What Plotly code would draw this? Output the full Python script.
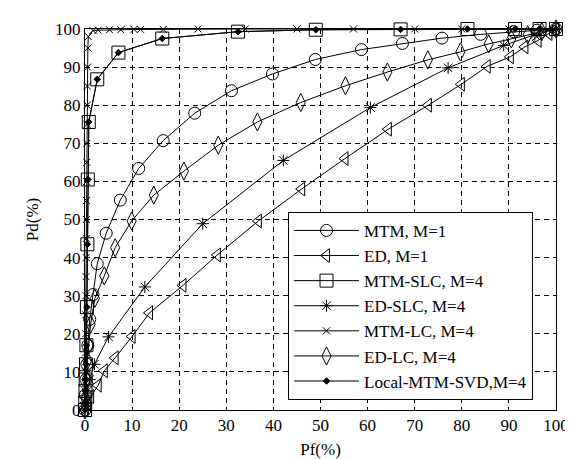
import plotly.graph_objects as go

# ---- data (Pf %, Pd %) ----
mtm_pf = [0, 0.1, 0.2, 0.4, 0.6, 1.0, 1.7, 2.6, 4.5, 7.5, 11.4, 16.6, 23.3, 31.1, 39.8, 48.9, 58.7, 67.4, 75.8, 84.0, 91.0, 96.0, 100]
mtm_pd = [0, 4, 8, 12, 17, 23.8, 30.3, 38.4, 46.4, 55.1, 63.4, 70.7, 77.9, 83.8, 88.2, 92.0, 94.6, 96.2, 97.6, 98.6, 99.3, 99.7, 100]

ed_pf = [0, 0.5, 1.2, 2.8, 4.1, 6.4, 10.0, 13.7, 20.8, 28.1, 36.8, 46.0, 55.2, 64.4, 72.9, 79.9, 85.4, 90.3, 93.4, 96.2, 98.5, 100]
ed_pd = [0, 1.5, 3.5, 6.5, 10.3, 13.7, 19.3, 25.5, 32.7, 40.7, 49.6, 58.0, 66.0, 73.7, 80.0, 85.5, 90.2, 92.7, 95.3, 97.0, 98.8, 100]

mtmslc_pf = [0, 0.05, 0.1, 0.15, 0.2, 0.3, 0.4, 0.5, 0.6, 0.8, 2.6, 7.1, 16.4, 32.5, 49.0, 67.0, 81.2, 91.3, 96.5, 100]
mtmslc_pd = [0, 2, 5, 8, 12, 17, 27, 43.5, 60.5, 75.6, 86.8, 93.8, 97.5, 99.3, 99.8, 99.9, 100, 100, 100, 100]

edslc_pf = [0, 0.2, 0.5, 1.0, 2.0, 5.0, 12.7, 25.0, 42.1, 60.6, 77.1, 88.9, 95.5, 100]
edslc_pd = [0, 2, 5, 8, 12, 19.2, 32.3, 48.9, 65.5, 79.4, 89.8, 95.7, 98.5, 100]

mtmlc_pf = [0, 0.05, 0.1, 0.12, 0.15, 0.18, 0.2, 0.22, 0.25, 0.28, 0.3, 0.32, 0.35, 0.38, 0.4, 0.42, 0.45, 0.5, 0.55, 0.6, 0.7,
            1.7, 2.8, 5.2, 7.6, 10.4, 11.8, 16.6, 24.0, 34.0, 45.0, 57.0, 70.0, 80.0, 90.0, 100]
mtmlc_pd = [0, 5, 10, 15, 20, 25, 30, 35, 40, 45, 50, 55, 60, 65, 70, 75, 80, 85, 90, 95, 98,
            99.6, 99.7, 99.8, 99.8, 99.9, 99.9, 99.9, 100, 100, 100, 100, 100, 100, 100, 100]

edlc_pf = [0, 0.1, 0.3, 0.5, 0.8, 1.2, 2.1, 4.1, 6.4, 9.9, 14.6, 21.0, 28.3, 36.6, 45.8, 55.3, 64.2, 72.8, 79.7, 85.7, 90.5, 94.0, 97.0, 100]
edlc_pd = [0, 3, 8, 13, 17, 22.5, 29.3, 35.2, 42.6, 49.6, 56.4, 62.7, 69.5, 75.6, 80.7, 85.1, 88.7, 91.9, 94.0, 96.1, 97.4, 98.5, 99.3, 100]

svd_pf = [0, 0.05, 0.1, 0.15, 0.2, 0.3, 0.4, 0.5, 0.6, 0.8, 2.6, 7.1, 16.4, 32.5, 49.0, 67.0, 81.2, 91.3, 96.5, 100]
svd_pd = [0, 2, 5, 8, 12, 17, 27, 43.5, 60.5, 75.6, 86.8, 93.8, 97.5, 99.3, 99.8, 99.9, 100, 100, 100, 100]

x_ticks = [0, 10, 20, 30, 40, 50, 60, 70, 80, 90, 100]
y_ticks = [0, 10, 20, 30, 40, 50, 60, 70, 80, 90, 100]

FONT = "Liberation Serif, Times New Roman, serif"

series = [
    ("MTM, M=1", mtm_pf, mtm_pd, dict(symbol="circle-open", size=12)),
    ("ED, M=1", ed_pf, ed_pd, dict(symbol="triangle-left-open", size=12)),
    ("MTM-SLC, M=4", mtmslc_pf, mtmslc_pd, dict(symbol="square-open", size=13)),
    ("ED-SLC, M=4", edslc_pf, edslc_pd, dict(symbol="asterisk-open", size=10)),
    ("MTM-LC, M=4", mtmlc_pf, mtmlc_pd, dict(symbol="x-thin-open", size=7)),
    ("ED-LC, M=4", edlc_pf, edlc_pd, dict(symbol="diamond-tall-open", size=13)),
    ("Local-MTM-SVD,M=4", svd_pf, svd_pd, dict(symbol="diamond", size=5)),
]

fig = go.Figure()
for name, xs, ys, mk in series:
    m = dict(color="black", line=dict(width=1, color="black"))
    m.update(mk)
    fig.add_trace(go.Scatter(
        x=xs, y=ys, name=name, mode="lines+markers",
        line=dict(color="black", width=1),
        marker=m, cliponaxis=False,
    ))

axis_common = dict(
    range=[0, 100], showline=True, mirror=True, linecolor="black", linewidth=1,
    showgrid=True, gridcolor="black", gridwidth=1, griddash="5px,4px",
    zeroline=False, ticks="", tickfont=dict(family=FONT, size=17, color="black"),
)

fig.update_layout(
    width=573, height=459,
    margin=dict(l=77, r=16, t=14, b=50),
    paper_bgcolor="white", plot_bgcolor="white",
    font=dict(family=FONT, size=17, color="black"),
    xaxis=dict(tickvals=x_ticks, title=dict(text="Pf(%)", font=dict(family=FONT, size=17), standoff=8), **axis_common),
    yaxis=dict(tickvals=y_ticks, title=dict(text="Pd(%)", font=dict(family=FONT, size=17), standoff=12), **axis_common),
    legend=dict(
        x=0.431, y=0.52, xanchor="left", yanchor="top",
        bgcolor="white", bordercolor="black", borderwidth=1,
        font=dict(family=FONT, size=17, color="black"),
        itemwidth=65, tracegroupgap=0,
    ),
    showlegend=True,
)

fig.write_html("out.html")
